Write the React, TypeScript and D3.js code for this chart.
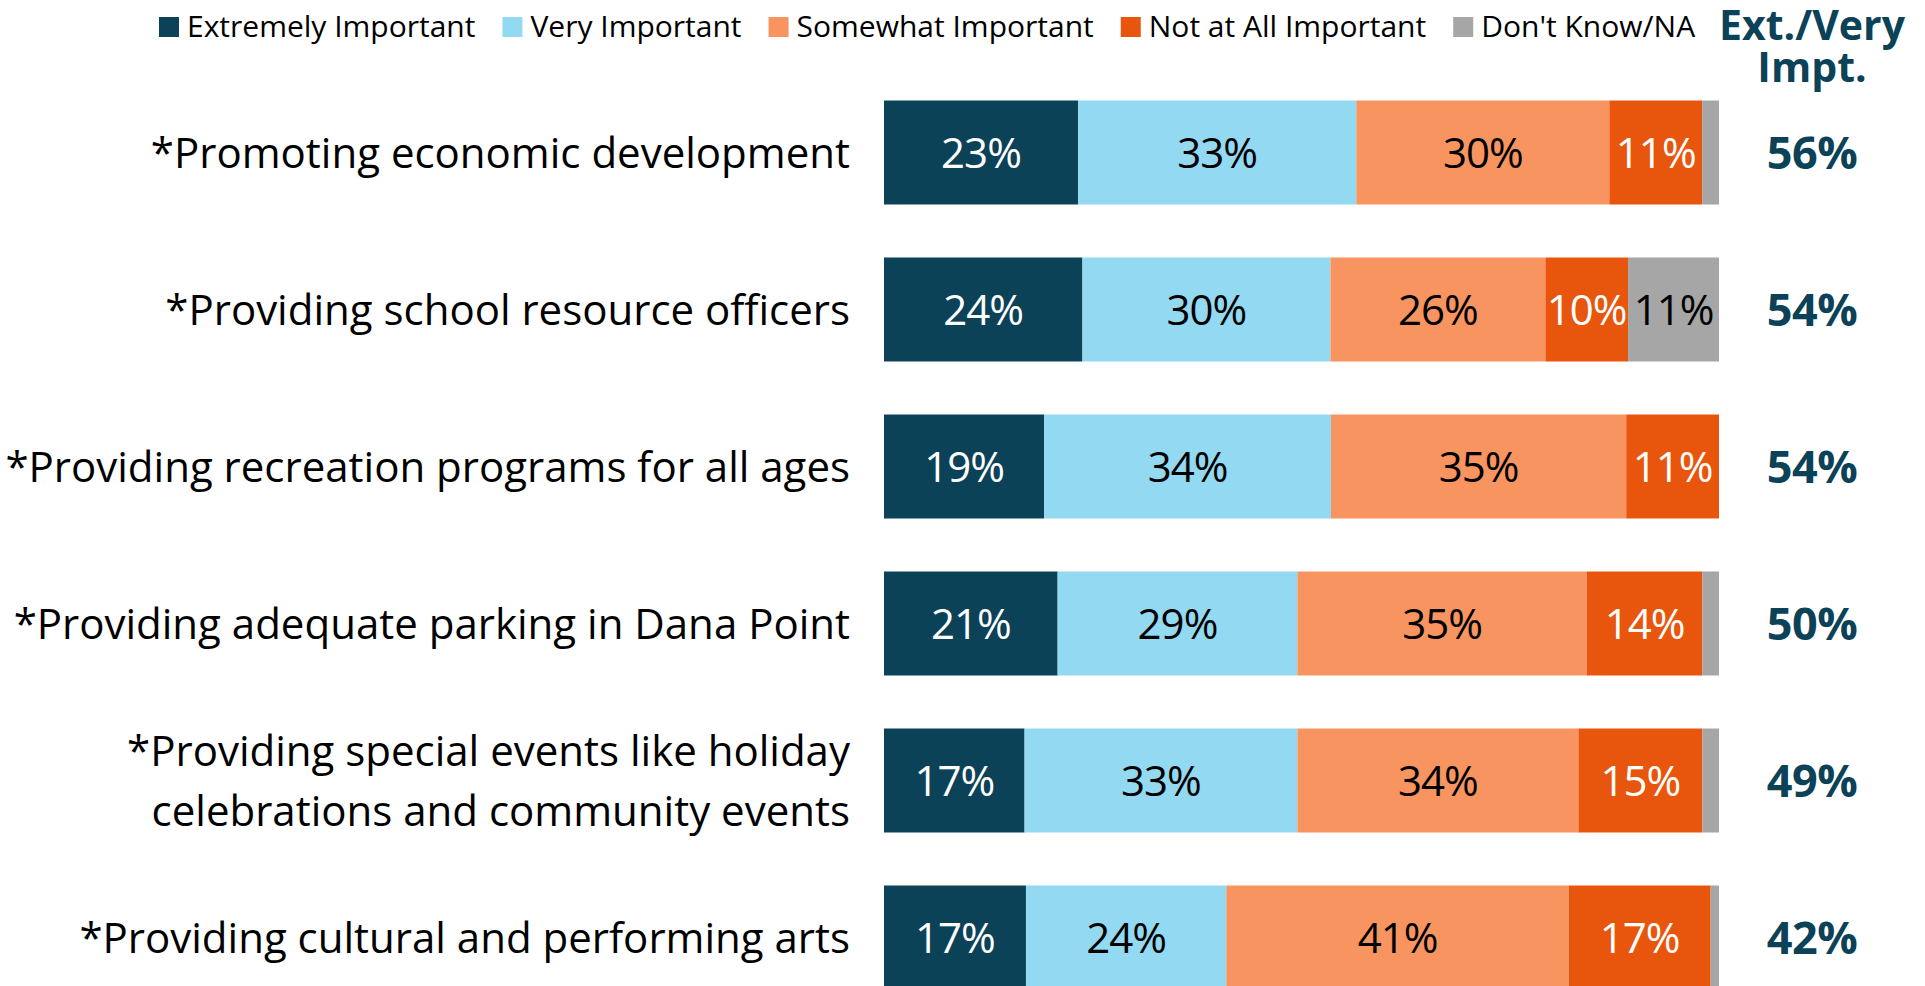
import React, { useEffect, useRef } from 'react';
import * as d3 from 'd3';

const categories = [
  ['*Promoting economic development'],
  ['*Providing school resource officers'],
  ['*Providing recreation programs for all ages'],
  ['*Providing adequate parking in Dana Point'],
  ['*Providing special events like holiday', 'celebrations and community events'],
  ['*Providing cultural and performing arts'],
];

const seriesNames = ['Extremely Important', 'Very Important', 'Somewhat Important', 'Not at All Important', "Don't Know/NA"];
const seriesColors = ['#0B4257', '#93D9F2', '#F7945F', '#E8560D', '#A6A6A6'];
const labelColors = ['#FFFFFF', '#000000', '#000000', '#FFFFFF', '#000000'];

const extremely = [23, 24, 19, 21, 17, 17];
const very = [33, 30, 34, 29, 33, 24];
const somewhat = [30, 26, 35, 35, 34, 41];
const notAtAll = [11, 10, 11, 14, 15, 17];
const dontKnow = [2, 11, 0, 2, 2, 1];

const extVery = [56, 54, 54, 50, 49, 42];

const W = 1925;
const H = 986;
const FONT = '"Open Sans", Lato, sans-serif';

const App = () => {
  const ref = useRef<SVGSVGElement>(null);

  useEffect(() => {
    drawChart();
  }, []); // eslint-disable-line react-hooks/exhaustive-deps

  const drawChart = () => {
    const svg = d3.select(ref.current);
    svg.selectAll('*').remove();

    const keys = seriesNames;
    const cols = [extremely, very, somewhat, notAtAll, dontKnow];
    const table = categories.map((c, i) => {
      const row: any = { name: c.join(' ') };
      keys.forEach((k, j) => (row[k] = cols[j][i]));
      return row;
    });

    const stack = d3.stack().keys(keys).offset(d3.stackOffsetExpand);
    const layers = stack(table);

    const x = d3.scaleLinear().domain([0, 1]).range([884, 1719]);
    const y = d3
      .scaleBand()
      .domain(table.map((d) => d.name))
      .range([74, 1016])
      .paddingInner(0.3376)
      .paddingOuter(0.1688);

    // bars
    const groups = svg
      .append('g')
      .selectAll('g')
      .data(layers)
      .enter()
      .append('g')
      .attr('fill', (d, i) => seriesColors[i]);

    groups
      .selectAll('rect')
      .data((d) => d)
      .enter()
      .append('rect')
      .attr('x', (d) => x(d[0]))
      .attr('width', (d) => x(d[1]) - x(d[0]))
      .attr('y', (d: any) => y(d.data.name))
      .attr('height', y.bandwidth());

    // value labels
    layers.forEach((layer, li) => {
      svg
        .append('g')
        .selectAll('text')
        .data(layer.filter((d: any) => d.data[keys[li]] >= 5))
        .enter()
        .append('text')
        .attr('x', (d) => (x(d[0]) + x(d[1])) / 2)
        .attr('y', (d: any) => y(d.data.name) + y.bandwidth() / 2)
        .attr('dy', '0.36em')
        .attr('text-anchor', 'middle')
        .attr('fill', labelColors[li])
        .style('font-family', FONT)
        .style('font-size', '42px')
        .style('letter-spacing', '-1px')
        .text((d: any) => d.data[keys[li]] + '%');
    });

    // category labels
    const cat = svg
      .append('g')
      .selectAll('text')
      .data(table)
      .enter()
      .append('text')
      .attr('text-anchor', 'end')
      .attr('fill', '#000')
      .style('font-family', FONT)
      .style('font-size', '42px');

    cat.each(function (d, i) {
      const lines = categories[i];
      const cy = y(d.name) + y.bandwidth() / 2;
      const lh = 60;
      lines.forEach((ln, k) => {
        d3.select(this)
          .append('tspan')
          .attr('x', 850)
          .attr('y', cy + (k - (lines.length - 1) / 2) * lh)
          .attr('dy', '0.36em')
          .text(ln);
      });
    });

    // Ext./Very column
    svg
      .append('g')
      .selectAll('text')
      .data(table)
      .enter()
      .append('text')
      .attr('x', 1812)
      .attr('y', (d) => y(d.name) + y.bandwidth() / 2)
      .attr('dy', '0.36em')
      .attr('text-anchor', 'middle')
      .attr('fill', '#0B4257')
      .style('font-family', FONT)
      .style('font-weight', 'bold')
      .style('font-size', '45px')
      .style('letter-spacing', '-0.5px')
      .text((d, i) => extVery[i] + '%');

    const hdr = svg
      .append('text')
      .attr('text-anchor', 'middle')
      .attr('fill', '#0B4257')
      .style('font-family', FONT)
      .style('font-weight', 'bold')
      .style('font-size', '41px');
    hdr.append('tspan').attr('x', 1812).attr('y', 40).text('Ext./Very');
    hdr.append('tspan').attr('x', 1812).attr('y', 82).text('Impt.');

    // legend
    const leg = svg.append('g');
    let lx = 159;
    keys.forEach((k, i) => {
      leg
        .append('rect')
        .attr('x', lx)
        .attr('y', 17)
        .attr('width', 20)
        .attr('height', 20)
        .attr('fill', seriesColors[i]);
      const t = leg
        .append('text')
        .attr('x', lx + 28)
        .attr('y', 37)
        .attr('fill', '#000')
        .style('font-family', FONT)
        .style('font-size', '30px')
        .text(k);
      const tw = (t.node() as SVGTextElement).getComputedTextLength();
      lx += 28 + tw + 27;
    });
  };

  return (
    <svg
      ref={ref}
      width={W}
      height={H}
      style={{ position: 'absolute', left: 0, top: 0, display: 'block', background: '#fff' }}
    ></svg>
  );
};

export default App;
